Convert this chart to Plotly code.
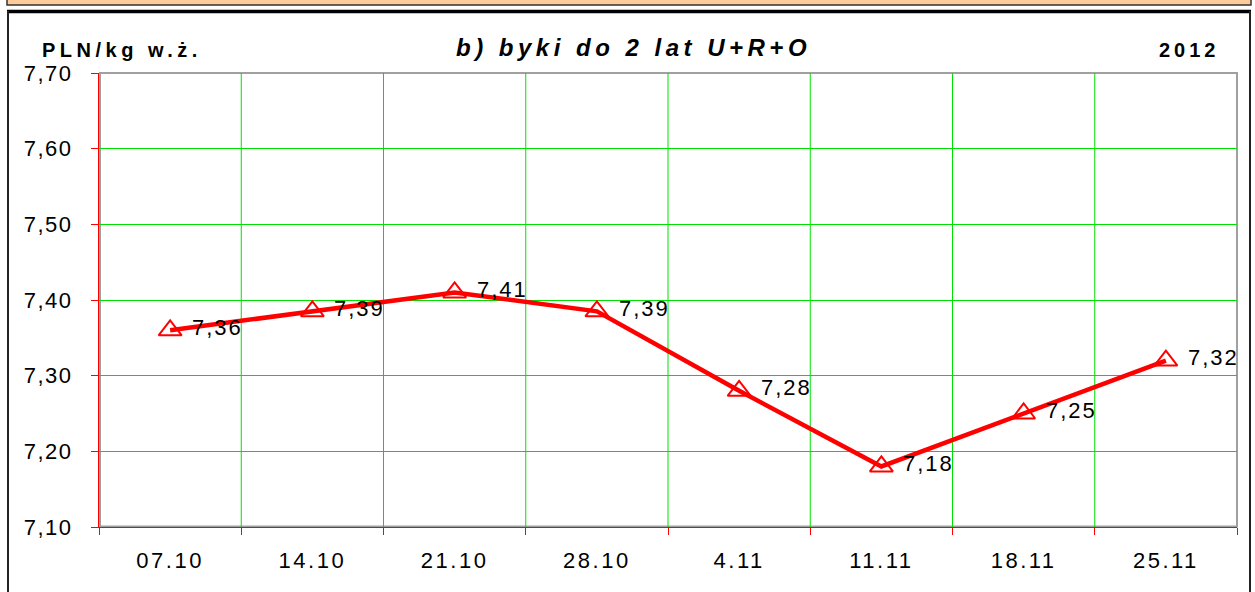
import plotly.graph_objects as go

categories = ["07.10", "14.10", "21.10", "28.10", "4.11", "11.11", "18.11", "25.11"]
prices = [7.36, 7.385, 7.41, 7.385, 7.28, 7.18, 7.25, 7.32]
price_labels = ["7,36", "7,39", "7,41", "7,39", "7,28", "7,18", "7,25", "7,32"]
y_tick_values = [7.10, 7.20, 7.30, 7.40, 7.50, 7.60, 7.70]
y_tick_labels = ["7,10", "7,20", "7,30", "7,40", "7,50", "7,60", "7,70"]
title_text = "b) byki do 2 lat U+R+O"
unit_text = "PLN/kg w.ż."
year_text = "2012"

W, H = 1255, 592
ML, MR, MT, MB = 99, 18, 73, 65
PW, PH = W - ML - MR, H - MT - MB


def px2x(px):
    return (px - ML) / PW


def py2y(py):
    return (H - MB - py) / PH


def spaced(t, sp):
    return f'<span style="letter-spacing:{sp}px">{t}</span>'


FONT = "Liberation Sans, Arial, sans-serif"
RED = "#FF0000"
GREEN = "#00E000"

fig = go.Figure()
fig.add_trace(go.Scatter(
    x=categories, y=prices, mode="lines+markers",
    line=dict(color=RED, width=4.5),
    marker=dict(symbol="triangle-up-open", size=20, color=RED, line=dict(color=RED, width=2)),
    hoverinfo="skip", showlegend=False,
))

annotations = []
for i, (v, t) in enumerate(zip(prices, price_labels)):
    annotations.append(dict(
        x=i, y=v, xref="x", yref="y", text=spaced(t, 2),
        showarrow=False, xanchor="left", yanchor="middle", xshift=20, yshift=3,
        font=dict(family=FONT, size=22, color="#000000"),
    ))

annotations.append(dict(
    x=px2x(633), y=py2y(47), xref="paper", yref="paper",
    text=spaced(f"<b><i>{title_text}</i></b>", 4.5),
    showarrow=False, xanchor="center", yanchor="middle",
    font=dict(family=FONT, size=24, color="#000000"),
))
annotations.append(dict(
    x=px2x(40), y=py2y(50), xref="paper", yref="paper",
    text=spaced(f"<b>{unit_text}</b>", 4.5),
    showarrow=False, xanchor="left", yanchor="middle",
    font=dict(family=FONT, size=20, color="#000000"),
))
annotations.append(dict(
    x=px2x(1222), y=py2y(50), xref="paper", yref="paper",
    text=spaced(f"<b>{year_text}</b>", 4),
    showarrow=False, xanchor="right", yanchor="middle",
    font=dict(family=FONT, size=20, color="#000000"),
))

shapes = [
    dict(type="rect", xref="paper", yref="paper", x0=px2x(7), x1=px2x(1251), y0=py2y(-3), y1=py2y(5),
         fillcolor="#FFCC99", line=dict(color="#333333", width=1.5), layer="above"),
    dict(type="line", xref="paper", yref="paper", x0=px2x(7), x1=px2x(1251), y0=py2y(11.5), y1=py2y(11.5),
         line=dict(color="#000000", width=3.5), layer="above"),
    dict(type="line", xref="paper", yref="paper", x0=px2x(8), x1=px2x(8), y0=py2y(11), y1=py2y(600),
         line=dict(color="#222222", width=2), layer="above"),
    dict(type="line", xref="paper", yref="paper", x0=px2x(1250), x1=px2x(1250), y0=py2y(11), y1=py2y(600),
         line=dict(color="#222222", width=2), layer="above"),
    dict(type="rect", xref="paper", yref="paper", x0=px2x(100), x1=px2x(1237), y0=py2y(526.5), y1=py2y(73),
         line=dict(color="#A0A0A0", width=2), layer="below"),
]
# vertical category-boundary grid lines
for i in range(1, len(categories)):
    shapes.append(dict(type="line", xref="x", yref="paper", x0=i - 0.5, x1=i - 0.5, y0=0, y1=1,
                       line=dict(color=GREEN, width=1), layer="below"))

fig.update_layout(
    width=W, height=H,
    margin=dict(l=ML, r=MR, t=MT, b=MB),
    paper_bgcolor="#FFFFFF", plot_bgcolor="#FFFFFF",
    showlegend=False,
    annotations=annotations,
    shapes=shapes,
    xaxis=dict(
        type="category", tickson="boundaries",
        tickmode="array", tickvals=categories, ticktext=[spaced(c, 2.5) for c in categories],
        showgrid=False,
        showline=True, linecolor=RED, linewidth=1,
        ticks="outside", ticklen=7, tickcolor=RED, tickwidth=1,
        tickfont=dict(family=FONT, size=22, color="#000000"),
        ticklabelstandoff=14,
        range=[-0.5, len(categories) - 0.5],
        zeroline=False, fixedrange=True,
    ),
    yaxis=dict(
        range=[7.10, 7.70],
        tickmode="array", tickvals=y_tick_values, ticktext=[spaced(t, 1.5) for t in y_tick_labels],
        showgrid=True, gridcolor=GREEN, gridwidth=1,
        showline=True, linecolor=RED, linewidth=1,
        ticks="outside", ticklen=7, tickcolor=RED, tickwidth=1,
        tickfont=dict(family=FONT, size=22, color="#000000"),
        ticklabelstandoff=14,
        zeroline=False, fixedrange=True,
    ),
)

fig.write_html("out.html", config={"displayModeBar": False},
               post_script="document.body.style.margin='0px';")
